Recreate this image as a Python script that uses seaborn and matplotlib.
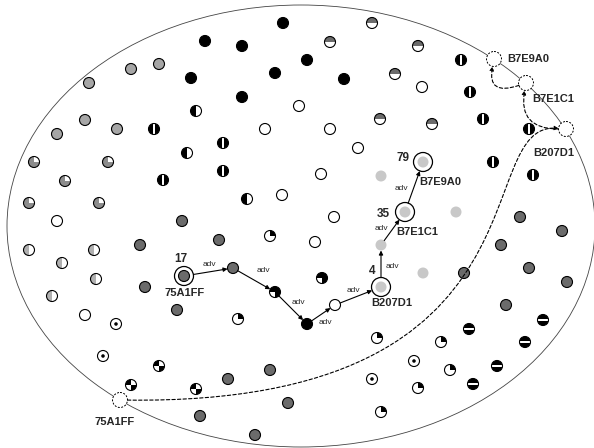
import numpy as np
import pandas as pd
import seaborn as sns
import matplotlib.pyplot as plt
from matplotlib.patches import Circle, Ellipse, Rectangle, FancyArrowPatch
from matplotlib.path import Path

# node positions (pixel space) and glyph type
node_name = [
    'n1', 'n2', 'n3', 'n4', 'n5', 'n6', 'n7', 'n8', 'n9', 'n10',
    'n11', 'n12', 'n13', 'n14', 'n15', 'n16', 'n17', 'n18', 'n19', 'n20',
    'n21', 'n22', 'n23', 'n24', 'n25', 'n26', 'n27', 'n28', 'n29', 'n30',
    'n31', 'n32', 'n33', 'n34', 'n35', 'n36', 'n37', 'n38', 'n39', 'n40',
    'n41', 'n42', 'n43', 'n44', 'n45', 'n46', 'n47', 'n48', 'n49', 'n50',
    'n51', 'n52', 'n53', 'n54', 'n55', 'n56', 'n57', 'n58', 'n59', 'n60',
    'n61', 'n62', 'n63', 'n64', 'n65', 'n66', 'n67', 'n68', 'n69', 'n70',
    'n71', 'n72', 'n73', 'n74', 'n75', 'n76', 'n77', 'n78', 'n79', 'n80',
    'n81', 'n82', 'n83', 'n84', 'n85', 'n86', 'n87', 'n88', 'n89', 'n90',
    'n91', 'n92', 'n93', 'n94',
    'p1', 'p2', 'p3', 'p4', 'p5', 'p6', 'p7', 'p8', 'p9',
]
node_x = [
    283, 205, 242, 131, 159, 191, 275, 89, 242, 196,
    299, 85, 57, 117, 154, 265, 223, 187, 34, 108,
    65, 163, 223, 247, 282, 29, 99, 57, 182, 372,
    330, 418, 461, 307, 344, 395, 422, 470, 330, 380,
    432, 483, 529, 358, 493, 533, 321, 381, 456, 520,
    334, 29, 94, 140, 219, 270, 62, 96, 52, 145,
    177, 85, 116, 238, 103, 159, 131, 196, 228, 270,
    288, 200, 255, 315, 562, 501, 322, 423, 464, 529,
    567, 506, 377, 469, 543, 525, 441, 414, 450, 497,
    473, 372, 418, 381,
    184, 233, 275, 307, 335, 381, 381, 405, 423,
]
node_y = [
    23, 41, 46, 69, 64, 78, 73, 83, 97, 111,
    106, 120, 134, 129, 129, 129, 143, 153, 162, 162,
    181, 180, 171, 199, 195, 203, 203, 221, 221, 23,
    42, 46, 60, 60, 79, 74, 87, 92, 129, 119,
    124, 119, 129, 148, 162, 175, 174, 176, 212, 217,
    217, 250, 250, 245, 240, 236, 263, 279, 296, 287,
    310, 315, 324, 319, 356, 366, 385, 389, 379, 370,
    403, 416, 435, 242, 231, 245, 278, 273, 273, 268,
    282, 305, 338, 329, 320, 342, 342, 361, 370, 366,
    384, 379, 388, 412,
    276, 268, 292, 324, 305, 287, 245, 212, 162,
]
node_kind = [
    'black', 'black', 'black', 'gray', 'gray', 'black', 'black', 'gray', 'black', 'halfL',
    'open', 'gray', 'gray', 'gray', 'vstripe', 'open', 'vstripe', 'halfL', 'checker', 'checker',
    'checker', 'vstripe', 'vstripe', 'halfL', 'open', 'checker', 'checker', 'open', 'dark', 'halftop',
    'halftop', 'halftop', 'vstripe', 'black', 'black', 'halftop', 'open', 'vstripe', 'open', 'halftop',
    'halftop', 'vstripe', 'vstripe', 'open', 'vstripe', 'vstripe', 'open', 'light', 'light', 'dark',
    'open', 'halfgray', 'halfgray', 'dark', 'dark', 'quarterB', 'halfgray', 'halfgray', 'halfgray', 'dark',
    'dark', 'open', 'dot', 'quarterB', 'dot', 'cross', 'cross', 'cross', 'dark', 'dark',
    'dark', 'dark', 'dark', 'open', 'dark', 'dark', 'blackq', 'light', 'dark', 'dark',
    'dark', 'dark', 'quarterB', 'hstripe', 'hstripe', 'hstripe', 'quarterB', 'dot', 'quarterB', 'hstripe',
    'hstripe', 'dot', 'quarterB', 'quarterB',
    'dark', 'dark', 'blackq', 'black', 'open', 'light', 'light', 'light', 'light',
]

# advertised route
route = ['p1', 'p2', 'p3', 'p4', 'p5', 'p6', 'p7', 'p8', 'p9']
route_label = 'adv'
adv_offset = [(1, -8), (9, -10), (7, -6), (4, 8), (-5, -5), (11, 0), (-12, 0), (-13, 2)]

# ringed nodes: name, number, id
ring_nodes = ['p1', 'p6', 'p8', 'p9']
ring_numbers = ['17', '4', '35', '79']
ring_ids = ['75A1FF', 'B207D1', 'B7E1C1', 'B7E9A0']

# nodes on the boundary of the space
edge_ids = ['75A1FF', 'B207D1', 'B7E1C1', 'B7E9A0']
edge_x = [120, 566, 526, 494]
edge_y = [400, 129, 83, 59]

# dashed links between boundary nodes (from, to, control points as span fractions)
links = [
    ('75A1FF', 'B207D1', [(0.99, -0.02), (0.78, 1.03)]),
    ('B207D1', 'B7E1C1', [(1.2, 0.0)]),
    ('B7E1C1', 'B7E9A0', [(1.22, -0.55)]),
]

base_color = {
    'black': 'black', 'gray': '#a6a6a6', 'dark': '#6b6b6b', 'light': '#c8c8c8',
    'open': 'white', 'halfL': 'white', 'vstripe': 'black', 'hstripe': 'black',
    'halftop': 'white', 'checker': '#8c8c8c', 'halfgray': 'white', 'quarterB': 'white',
    'dot': 'white', 'cross': 'white', 'blackq': 'black',
}
overlay = {
    'halfL': [(-1, -1, 1, 2, 'black')],
    'vstripe': [(-0.2, -1, 0.45, 2, 'white')],
    'hstripe': [(-1, -0.22, 2, 0.44, 'white')],
    'halftop': [(-1, -1, 2, 1, '#6b6b6b')],
    'checker': [(0, -1, 1, 1, 'white')],
    'halfgray': [(-1, -1, 1, 2, '#b0b0b0')],
    'quarterB': [(0, -1, 1, 1, 'black')],
    'cross': [(-1, -1, 1, 1, 'black'), (0, 0, 1, 1, 'black')],
    'blackq': [(-1, 0, 1, 1, 'white')],
}

R = 5.5
RING = 9.5
RDASH = 7.5

sns.set_style('white')
plt.rcParams['font.family'] = ['Liberation Sans', 'DejaVu Sans']

df = pd.DataFrame({'name': node_name, 'x': node_x, 'y': node_y, 'kind': node_kind})
pos = {n: (x, y) for n, x, y in zip(node_name, node_x, node_y)}
epos = {n: (x, y) for n, x, y in zip(edge_ids, edge_x, edge_y)}

fig = plt.figure(figsize=(5.94, 4.48), dpi=100)
ax = fig.add_axes([0, 0, 1, 1])

ax.add_patch(Ellipse((301, 226), 588, 442, fill=False, lw=0.6, edgecolor='#444444', zorder=1))

# base fills
sns.scatterplot(data=df, x='x', y='y', hue='kind', palette=base_color, s=(2 * R * 0.72) ** 2,
                linewidth=0, legend=False, ax=ax, zorder=2)
ax.set_xlim(0, 594)
ax.set_ylim(448, 0)
ax.axis('off')

for x, y, k in zip(node_x, node_y, node_kind):
    clip = Circle((x, y), R, transform=ax.transData)
    for (x0, y0, w, h, c) in overlay.get(k, []):
        rect = Rectangle((x + x0 * R, y + y0 * R), w * R, h * R, facecolor=c, lw=0, zorder=3)
        ax.add_patch(rect)
        rect.set_clip_path(clip)
    if k == 'dot':
        ax.add_patch(Circle((x, y), 0.32 * R, facecolor='black', lw=0, zorder=3))
    if k != 'light':
        ax.add_patch(Circle((x, y), R, fill=False, lw=0.8, edgecolor='black', zorder=4))

# rings and labels on the route
for n in ring_nodes:
    ax.add_patch(Circle(pos[n], RING, fill=False, lw=0.9, edgecolor='black', zorder=4))
num_off = [(-3, -17), (-9, -16), (-22, 2), (-20, -4)]
id_off = [(1, 17), (11, 16), (12, 20), (17, 20)]
for n, num, nid, no, io in zip(ring_nodes, ring_numbers, ring_ids, num_off, id_off):
    x, y = pos[n]
    ax.text(x + no[0], y + no[1], num, ha='center', va='center', fontsize=8.5, fontweight='bold')
    ax.text(x + io[0], y + io[1], nid, ha='center', va='center', fontsize=8, fontweight='bold')

# advertisement arrows
for i in range(len(route) - 1):
    a, b = route[i], route[i + 1]
    sa = (RING if a in ring_nodes else R) * 0.72
    sb = (RING if b in ring_nodes else R) * 0.72
    ax.annotate('', xy=pos[b], xytext=pos[a],
                arrowprops=dict(arrowstyle='-|>', lw=0.8, color='black', shrinkA=sa, shrinkB=sb,
                                mutation_scale=6), zorder=5)
    mx = (pos[a][0] + pos[b][0]) / 2 + adv_offset[i][0]
    my = (pos[a][1] + pos[b][1]) / 2 + adv_offset[i][1]
    ax.text(mx, my, route_label, ha='center', va='center', fontsize=6)

# boundary nodes
for x, y in zip(edge_x, edge_y):
    ax.add_patch(Circle((x, y), RDASH, facecolor='white', edgecolor='black', lw=0.7,
                        linestyle=(0, (2, 1.5)), zorder=4))
ax.text(edge_x[0] - 5, edge_y[0] + 22, edge_ids[0], ha='center', va='center', fontsize=8, fontweight='bold')
ax.text(edge_x[1] - 33, edge_y[1] + 24, edge_ids[1], ha='left', va='center', fontsize=8, fontweight='bold')
ax.text(edge_x[2] + 6, edge_y[2] + 16, edge_ids[2], ha='left', va='center', fontsize=8, fontweight='bold')
ax.text(edge_x[3] + 13, edge_y[3], edge_ids[3], ha='left', va='center', fontsize=8, fontweight='bold')

# dashed links
for a, b, fr in links:
    A = np.array(epos[a], float)
    B = np.array(epos[b], float)
    ctrl = [A + np.array(f) * (B - A) for f in fr]
    u0 = (ctrl[0] - A) / np.linalg.norm(ctrl[0] - A)
    u1 = (ctrl[-1] - B) / np.linalg.norm(ctrl[-1] - B)
    p0 = A + RDASH * u0
    p1 = B + RDASH * u1
    verts = [p0] + ctrl + [p1]
    code = Path.CURVE4 if len(ctrl) == 2 else Path.CURVE3
    codes = [Path.MOVETO] + [code] * (len(verts) - 1)
    arr = FancyArrowPatch(path=Path(verts, codes), arrowstyle='-|>', mutation_scale=6,
                          lw=0.8, linestyle=(0, (3, 2)), color='black', zorder=5)
    ax.add_patch(arr)

fig.savefig('out.png', dpi=100)
